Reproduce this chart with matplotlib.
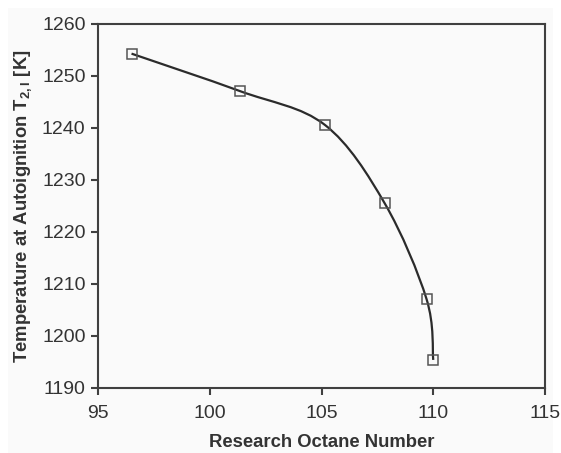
import numpy as np
import matplotlib
matplotlib.use('Agg')
import matplotlib.pyplot as plt
from matplotlib.path import Path
from matplotlib.patches import PathPatch, Rectangle

plt.rcParams['font.family'] = ['Liberation Sans', 'DejaVu Sans']
plt.rcParams['mathtext.fontset'] = 'custom'
plt.rcParams['mathtext.rm'] = 'Liberation Sans'
plt.rcParams['mathtext.bf'] = 'Liberation Sans:bold'

# data
ron = [96.5, 101.35, 105.15, 107.83, 109.7, 110.0]
temp = [1254.3, 1247.1, 1240.6, 1225.5, 1207.1, 1195.4]

x_ticks = [95, 100, 105, 110, 115]
y_ticks = [1190, 1200, 1210, 1220, 1230, 1240, 1250, 1260]

W, H = 561, 453
fig = plt.figure(figsize=(W / 100, H / 100), dpi=100, facecolor='white')
# light grey chart panel
fig.patches.append(Rectangle((8 / W, 0), 545 / W, 445 / H, transform=fig.transFigure,
                             facecolor='#fafafa', edgecolor='none', zorder=-10))

ax = fig.add_axes([98 / W, 1 - 388 / H, 447 / W, 364 / H])
ax.set_facecolor('#fafafa')

# smoothed line (Catmull-Rom bezier like Excel's smoothing)
pts = np.column_stack([ron, temp])
verts = [pts[0]]
codes = [Path.MOVETO]
n = len(pts)
for i in range(n - 1):
    p0 = pts[i - 1] if i > 0 else pts[i]
    p1 = pts[i]
    p2 = pts[i + 1]
    p3 = pts[i + 2] if i + 2 < n else pts[i + 1]
    c1 = p1 + (p2 - p0) / 6.0
    c2 = p2 - (p3 - p1) / 6.0
    verts += [c1, c2, p2]
    codes += [Path.CURVE4] * 3
ax.add_patch(PathPatch(Path(verts, codes), facecolor='none', edgecolor='#2b2b2b',
                       linewidth=1.6, zorder=2))

ax.plot(ron, temp, linestyle='none', marker='s', markersize=7.5,
        markerfacecolor='none', markeredgecolor='#555555', markeredgewidth=1.1, zorder=3)

ax.set_xlim(95, 115)
ax.set_ylim(1190, 1260)
ax.set_xticks(x_ticks)
ax.set_yticks(y_ticks)
for s in ax.spines.values():
    s.set_color('#404040')
    s.set_linewidth(1.5)
ax.tick_params(direction='out', length=5, width=1.5, color='#404040',
               labelsize=14, labelcolor='#333333', pad=4)
ax.tick_params(axis='x', pad=7)

ax.set_xlabel('Research Octane Number', fontsize=13.3, fontweight='bold', color='#333333', labelpad=9)
ax.set_ylabel(r'Temperature at Autoignition T$_{\mathbf{2,I}}$ [K]', fontsize=13.3,
              fontweight='bold', color='#333333', labelpad=6)

fig.savefig('out.png', dpi=100, facecolor='white')
